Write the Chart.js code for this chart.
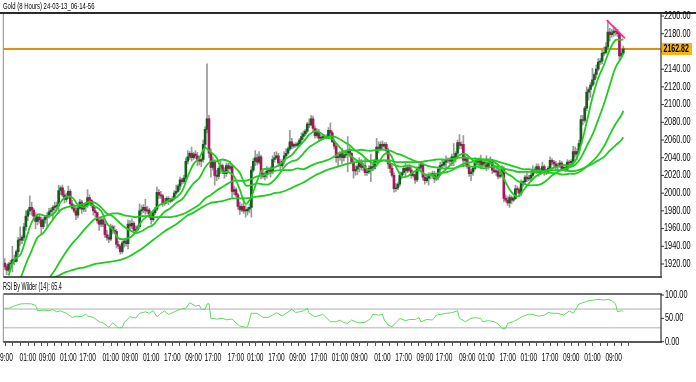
<!DOCTYPE html>
<html><head><meta charset="utf-8">
<script src="https://cdn.jsdelivr.net/npm/chart.js@4.4.1/dist/chart.umd.min.js"></script>
<style>
html,body{margin:0;padding:0;background:#fff;}
#wrap{position:relative;width:696px;height:382px;overflow:hidden;background:#fff;}
canvas{position:absolute;left:0;}
#c1{top:0;} #c2{top:280px;}
</style></head><body>
<div id="wrap"><canvas id="c1" width="696" height="280"></canvas><canvas id="c2" width="696" height="102"></canvas></div>
<script>
// ---- data (8-hour bars, oldest first) ----
const title = "Gold (8 Hours) 24-03-13_06-14-56";
const rsiTitle = "RSI By Wilder (14): 65.4";
const open = [
1921,1917,1913, 1920,1921,1925, 1923,1934,1947, 1947,1950,1962, 1974,1980,1984,
1981,1974,1968, 1973,1970,1962, 1970,1973,1975, 1979,1981,1984, 1985,1986,2003,
2006,1998,1993, 1996,2002,1988, 1983,1980,1975, 1983,1990,1982, 1985,1987,1995,
1992,1986,1980, 1978,1969,1965, 1970,1965,1953, 1950,1948,1962, 1958,1957,1942,
1940,1934,1944, 1946,1943,1965, 1963,1966,1958, 1959,1962,1980, 1981,1984,1980,
1981,1974,1970, 1978,1982,2001, 1998,1997,1988, 1990,1994,1991, 1992,1994,2000,
2002,2008,2015, 2013,2017,2036, 2041,2045,2040, 2044,2042,2038, 2036,2038,2055,
2072,2084,2045, 2029,2035,2020, 2019,2028,2031, 2025,2022,2031, 2028,2030,2002,
2004,1998,1985, 1981,1985,1980, 1980,1982,1984, 2026,2036,2040, 2035,2041,2022,
2019,2021,2025, 2027,2024,2038, 2040,2042,2034, 2031,2036,2042, 2045,2050,2058,
2053,2055,2054, 2056,2060,2064, 2067,2070,2078, 2077,2084,2073, 2065,2069,2062,
2062,2064,2063, 2064,2071,2068, 2058,2053,2040, 2041,2045,2040, 2043,2044,2048,
2045,2035,2025, 2027,2030,2036, 2029,2031,2023, 2024,2028,2030, 2028,2036,2052,
2049,2055,2053, 2055,2048,2033, 2028,2020,2005, 2006,2010,2020, 2023,2028,2025,
2029,2026,2020, 2021,2015,2027, 2029,2032,2018, 2014,2017,2021, 2020,2022,2016,
2018,2027,2031, 2032,2035,2038, 2037,2036,2041, 2039,2045,2057, 2054,2055,2037,
2039,2030,2022, 2024,2028,2036, 2035,2037,2031, 2035,2033,2029, 2034,2036,2026,
2024,2025,2019, 2020,2028,1994, 1992,1989,1995, 1992,1994,2005, 2004,2000,2011,
2013,2018,2016, 2017,2020,2027, 2024,2030,2023, 2026,2030,2023, 2024,2028,2037,
2035,2033,2030, 2031,2034,2028, 2029,2027,2035, 2034,2036,2047, 2044,2047,2056,
2083,2082,2096, 2114,2117,2122, 2128,2134,2140, 2148,2149,2158, 2159,2165,2182,
2179,2181,2183, 2182,2180,2155, 2158];
const high = [
1926,1920,1922, 1924,1940,1930, 1936,1950,1962, 1952,1966,1980, 1982,1997,1990,
1983,1978,1976, 1976,1973,1972, 1975,1978,1983, 1983,1986,1990, 1990,2009,2008,
2009,2003,2000, 2008,2004,1992, 1987,1984,1986, 1993,1992,1988, 1989,2004,1998,
1993,1990,1984, 1978,1972,1972, 1972,1968,1958, 1953,1965,1964, 1963,1959,1946,
1942,1946,1948, 1948,1970,1969, 1971,1968,1963, 1964,1988,1986, 1987,1993,1985,
1983,1978,1980, 1984,2007,2004, 2002,1999,1994, 1996,1996,1994, 1996,2003,2009,
2010,2018,2017, 2020,2040,2048, 2047,2052,2046, 2048,2046,2041, 2040,2060,2075,
2146,2088,2050, 2041,2038,2026, 2030,2036,2033, 2029,2034,2034, 2036,2032,2008,
2006,2000,1990, 1988,1995,1986, 1984,1988,2030, 2039,2048,2044, 2047,2043,2026,
2024,2030,2029, 2030,2042,2046, 2047,2045,2038, 2038,2047,2050, 2052,2071,2062,
2056,2057,2058, 2062,2068,2070, 2072,2080,2084, 2088,2087,2076, 2073,2072,2066,
2066,2066,2066, 2074,2079,2070, 2061,2056,2046, 2047,2051,2046, 2047,2064,2052,
2046,2038,2031, 2032,2040,2038, 2034,2039,2028, 2031,2044,2034, 2038,2062,2058,
2058,2059,2057, 2057,2051,2036, 2031,2023,2011, 2012,2024,2024, 2030,2036,2032,
2033,2030,2024, 2025,2030,2033, 2036,2034,2022, 2020,2023,2023, 2025,2025,2021,
2030,2035,2037, 2038,2042,2040, 2040,2044,2056, 2047,2060,2066, 2058,2065,2042,
2041,2033,2027, 2030,2040,2039, 2040,2043,2037, 2038,2042,2036, 2041,2038,2030,
2028,2027,2024, 2031,2030,1998, 1996,1998,1997, 1996,2009,2008, 2006,2015,2014,
2020,2023,2020, 2022,2031,2029, 2033,2033,2028, 2035,2032,2027, 2030,2041,2039,
2037,2036,2034, 2037,2036,2032, 2032,2038,2037, 2038,2053,2052, 2050,2060,2088,
2088,2098,2120, 2119,2125,2141, 2136,2145,2152, 2152,2162,2165, 2170,2195,2186,
2185,2189,2187, 2185,2182,2163, 2166];
const low = [
1914,1908,1911, 1916,1911,1919, 1922,1930,1941, 1943,1946,1958, 1969,1976,1975,
1970,1960,1964, 1966,1953,1960, 1966,1962,1972, 1976,1970,1980, 1983,1977,1998,
1996,1989,1990, 1994,1985,1982, 1978,1970,1972, 1982,1977,1979, 1979,1984,1988,
1984,1975,1973, 1966,1958,1962, 1962,1950,1947, 1944,1946,1954, 1955,1938,1937,
1931,1932,1939, 1940,1937,1958, 1960,1955,1955, 1957,1960,1976, 1978,1976,1977,
1972,1965,1968, 1976,1980,1994, 1994,1985,1986, 1988,1987,1989, 1990,1992,1998,
2001,2004,2010, 2011,2015,2033, 2038,2036,2038, 2039,2031,2032, 2030,2035,2050,
2068,2040,2018, 2026,2009,2014, 2016,2022,2022, 2017,2019,2025, 2026,1995,1998,
1996,1982,1976, 1979,1977,1973, 1975,1978,1973, 2024,2031,2032, 2033,2016,2017,
2015,2017,2022, 2018,2022,2035, 2038,2030,2027, 2029,2033,2040, 2044,2048,2050,
2051,2052,2052, 2054,2056,2061, 2065,2068,2074, 2076,2070,2062, 2063,2058,2059,
2061,2062,2061, 2062,2065,2057, 2050,2035,2030, 2037,2033,2036, 2040,2024,2041,
2033,2017,2020, 2021,2024,2026, 2025,2020,2020, 2022,2013,2025, 2027,2034,2045,
2048,2050,2051, 2045,2028,2023, 2018,2001,2002, 2004,2008,2016, 2021,2019,2023,
2024,2017,2018, 2011,2013,2025, 2027,2015,2010, 2012,2009,2016, 2017,2012,2014,
2015,2023,2028, 2030,2027,2034, 2033,2031,2031, 2035,2042,2050, 2050,2030,2031,
2028,2019,2014, 2020,2026,2032, 2032,2028,2029, 2030,2025,2027, 2032,2022,2023,
2020,2016,2017, 2018,1990,1990, 1986,1984,1988, 1990,1993,2000, 1996,1997,2008,
2011,2013,2014, 2013,2018,2022, 2022,2019,2021, 2024,2020,2021, 2022,2026,2032,
2030,2025,2027, 2029,2025,2026, 2024,2025,2031, 2030,2033,2041, 2038,2044,2054,
2077,2080,2093, 2105,2108,2120, 2123,2130,2138, 2145,2146,2155, 2157,2164,2172,
2176,2177,2178, 2177,2150,2152, 2156];
const close = [
1917,1913,1920, 1921,1925,1923, 1934,1947,1947, 1950,1962,1974, 1980,1984,1981,
1974,1968,1973, 1970,1962,1970, 1973,1975,1979, 1981,1984,1985, 1986,2003,2006,
1998,1993,1996, 2002,1988,1983, 1980,1975,1983, 1990,1982,1985, 1987,1995,1992,
1986,1980,1978, 1969,1965,1970, 1965,1953,1950, 1948,1962,1958, 1957,1942,1940,
1934,1944,1946, 1943,1965,1963, 1966,1958,1959, 1962,1980,1981, 1984,1980,1981,
1974,1970,1978, 1982,2001,1998, 1997,1988,1990, 1994,1991,1992, 1994,2000,2002,
2008,2015,2013, 2017,2036,2041, 2045,2040,2044, 2042,2038,2036, 2038,2055,2072,
2084,2045,2029, 2035,2020,2019, 2028,2031,2025, 2022,2031,2028, 2030,2002,2004,
1998,1985,1981, 1985,1980,1980, 1982,1984,2026, 2036,2040,2035, 2041,2022,2019,
2021,2025,2027, 2024,2038,2040, 2042,2034,2031, 2036,2042,2045, 2050,2058,2053,
2055,2054,2056, 2060,2064,2067, 2070,2078,2077, 2084,2073,2065, 2069,2062,2062,
2064,2063,2064, 2071,2068,2058, 2053,2040,2041, 2045,2040,2043, 2044,2048,2045,
2035,2025,2027, 2030,2036,2029, 2031,2023,2024, 2028,2030,2028, 2036,2052,2049,
2055,2053,2055, 2048,2033,2028, 2020,2005,2006, 2010,2020,2023, 2028,2025,2029,
2026,2020,2021, 2015,2027,2029, 2032,2018,2014, 2017,2021,2020, 2022,2016,2018,
2027,2031,2032, 2035,2038,2037, 2036,2041,2039, 2045,2057,2054, 2055,2037,2039,
2030,2022,2024, 2028,2036,2035, 2037,2031,2035, 2033,2029,2034, 2036,2026,2024,
2025,2019,2020, 2028,1994,1992, 1989,1995,1992, 1994,2005,2004, 2000,2011,2013,
2018,2016,2017, 2020,2027,2024, 2030,2023,2026, 2030,2023,2024, 2028,2037,2035,
2033,2030,2031, 2034,2028,2029, 2027,2035,2034, 2036,2047,2044, 2047,2056,2083,
2082,2096,2114, 2117,2122,2128, 2134,2140,2148, 2149,2158,2159, 2165,2182,2179,
2181,2183,2182, 2180,2155,2158, 2163];
// moving averages, one reading per trading day (3 bars)
const ma9 = [
1907,1925,1930,1948,1967,1976,1975,1974,1978,1990,
1996,1995,1987,1984,1987,1985,1980,1966,1959,1949,
1948,1950,1956,1968,1974,1980,1986,1989,1993,1995,
2002,2019,2033,2040,2051,2046,2040,2024,2024,2019,
2004,1988,1996,2014,2027,2027,2029,2033,2039,2043,
2051,2058,2066,2070,2068,2063,2061,2054,2047,2043,
2038,2034,2027,2027,2034,2044,2044,2030,2019,2019,
2024,2026,2021,2021,2017,2023,2029,2036,2043,2044,
2039,2033,2031,2035,2031,2026,2012,2001,1996,2003,
2011,2018,2022,2025,2028,2030,2032,2031,2036,2054,
2080,2108,2130,2145,2162,2173,2173,2174];
const ma21 = [
1878,1891,1903,1920,1935,1950,1955,1964,1973,1981,
1984,1985,1986,1988,1990,1989,1984,1977,1974,1968,
1962,1958,1955,1957,1961,1964,1972,1979,1983,1989,
1993,2002,2011,2017,2029,2036,2036,2038,2036,2030,
2023,2009,2009,2011,2010,2010,2015,2023,2032,2036,
2038,2045,2052,2056,2060,2063,2064,2062,2058,2054,
2048,2044,2038,2034,2035,2037,2034,2031,2030,2031,
2030,2027,2021,2020,2022,2023,2024,2027,2031,2034,
2035,2037,2038,2037,2035,2030,2023,2019,2014,2011,
2009,2009,2010,2014,2020,2024,2027,2029,2032,2040,
2053,2066,2083,2101,2122,2142,2153,2158];
const ma50 = [
1869,1869,1871,1875,1881,1888,1895,1904,1913,1924,
1934,1943,1950,1958,1965,1971,1973,1975,1977,1977,
1975,1974,1973,1974,1974,1973,1973,1973,1973,1974,
1976,1979,1983,1987,1994,1998,2003,2007,2011,2014,
2014,2014,2016,2019,2020,2022,2025,2026,2026,2026,
2028,2027,2030,2033,2035,2037,2040,2044,2047,2049,
2048,2049,2048,2048,2049,2049,2048,2045,2043,2040,
2037,2035,2032,2030,2029,2028,2028,2028,2030,2031,
2030,2030,2028,2029,2030,2030,2027,2026,2024,2024,
2024,2024,2024,2023,2023,2022,2021,2022,2022,2025,
2030,2036,2043,2053,2066,2078,2088,2093];
const ma100 = [
1896,1895,1895,1896,1898,1900,1901,1903,1905,1908,
1911,1913,1915,1916,1918,1920,1921,1922,1923,1924,
1926,1929,1933,1937,1942,1947,1952,1957,1961,1965,
1970,1975,1978,1982,1986,1989,1990,1991,1993,1994,
1994,1994,1995,1996,1997,1998,2000,2001,2003,2006,
2009,2012,2016,2020,2023,2026,2028,2030,2032,2034,
2035,2036,2036,2037,2037,2037,2037,2035,2035,2035,
2035,2035,2036,2037,2038,2038,2038,2039,2040,2040,
2039,2039,2038,2038,2037,2035,2033,2031,2029,2027,
2027,2026,2025,2025,2026,2026,2026,2025,2025,2027,
2030,2033,2037,2041,2048,2054,2060,2063];
const rsiBar = [0,2,5,8,11,14,16,17,20,23,25,27,29,32,35,37,40,42,43,46,49,51,54,56,59,61,62,65,68,70,73,75,77,79,81,83,85,88,91,94,96,99,101,102,104,105,106,107,110,113,115,118,120,122,125,126,128,131,134,137,139,141,144,146,149,151,153,155,157,158,161,164,165,169,172,174,176,178,180,182,184,187,190,191,194,196,197,199,201,203,205,208,210,213,215,216,219,222,224,227,229,232,235,236,239,242,244,247,248,251,254,256,258,260,261,264,267,269,272,274,277,280,282,285,287,290,293,295,298,300,303,306,308,311,313,315,317,318,320,321];
const rsiVal = [71.6,71.6,76.5,80.8,81.5,80.8,78,66.4,67.6,66.4,69,64,66,60.8,52.2,54.7,53.6,59,55,52,42.9,40.5,30.8,40.5,30,30,40.8,53.6,50.5,60.8,64,61,66.4,53.6,60.8,66,58.5,64,69.3,71.6,83.6,76.5,78,69.3,69.3,80.8,81.5,50,48.6,50,47,48.6,40.5,33.6,31,32,61,60.8,52.2,52.2,57,62,55,60.8,69.3,62.7,64,66,71.6,60.8,53.6,57,59,42.9,42.9,46.5,40.8,39.4,46.5,43,40.5,41.6,50,58.6,57,58.6,46.5,35.7,32,40.8,50,45,47.6,47.6,52,42.9,47.6,46.5,57,59,60.8,62,66.4,50,43,50,51.5,50,43,45,43,38.3,28.6,28.6,39.4,43,50,54.7,59,58.6,54.7,56.7,62.4,60.8,60.8,57,66,60.8,80.8,83.6,87.9,89.3,90.7,89.3,90.7,88,80.8,64.3,66.4,65.4];
const priceTicks = [1920,1940,1960,1980,2000,2020,2040,2060,2080,2100,2120,2140,2160,2180,2200];
const rsiTicks = [0,50,100];
const rsiLevels = [30,70];
const xLabelBar = [0,12,22,33,43,55,65,76,87,98,108,120,130,141,152,163,174,184,196,207,218,228,240,250,261,272,283,294,305,316];
const xLabels = ["09:00","01:00","09:00","01:00","17:00","01:00","09:00","01:00","17:00","09:00","17:00","17:00","01:00","17:00","09:00","17:00","01:00","09:00","01:00","17:00","09:00","17:00","09:00","01:00","17:00","01:00","17:00","09:00","01:00","09:00"];
const lastPrice = 2162.82;
const trendBar = [312.4, 321.9];
const trendPrice = [2195.5, 2174.8];

// ---- styling ----
const X_MIN = -0.7265, X_MAX = 340.56;
const BULL = '#145e1c', BEAR = '#a8165c', WICK = '#9a9a9a', MA = '#1fcc1f';
const FONT = '"Liberation Sans", Arial, sans-serif';
function txt(ctx, s, x, y, o) {
  o = o || {};
  ctx.save(); ctx.translate(x, y); ctx.scale(o.sx || 0.72, 1);
  ctx.font = (o.weight || 'normal') + ' ' + (o.size || 10) + 'px ' + FONT;
  ctx.fillStyle = o.color || '#000'; ctx.textAlign = o.align || 'left'; ctx.textBaseline = 'middle';
  ctx.fillText(s, 0, 0); ctx.restore();
}
function hline(ctx, x1, x2, y, w, c) { ctx.fillStyle = c; ctx.fillRect(x1, y - w / 2, x2 - x1, w); }
function vline(ctx, x, y1, y2, w, c) { ctx.fillStyle = c; ctx.fillRect(x - w / 2, y1, w, y2 - y1); }

const wickData = close.map((c, i) => ({x: i, y: [low[i], high[i]]}));
const bodyData = close.map((c, i) => ({x: i, y: [open[i], c]}));
const bodyColors = close.map((c, i) => c >= open[i] ? BULL : BEAR);
const lastBar = close.length - 1;
const maPts = arr => arr.map((v, k) => ({x: Math.min(3 * k + 2, lastBar), y: v}));
const maSet = (arr, ord) => ({type: 'line', data: maPts(arr), borderColor: MA, borderWidth: 1.8, pointRadius: 0, tension: 0.35, order: ord});

const mainDecor = {
  id: 'mainDecor',
  beforeDatasetsDraw(chart) {
    const {ctx, chartArea: a, scales: {y}} = chart;
    hline(ctx, a.left, a.right, y.getPixelForValue(lastPrice), 2, '#d8920c');
  },
  afterDraw(chart) {
    const {ctx, chartArea: a, scales: {y}} = chart;
    txt(ctx, title, 3, 6.5, {size: 9, sx: 0.66});
    hline(ctx, 0, 696, 13, 2, '#2a2a2a');
    vline(ctx, a.left, a.top, a.bottom, 1, '#8c8c8c');
    hline(ctx, a.left, a.right + 1, a.bottom, 1.5, '#222');
    vline(ctx, a.right, a.top - 1, a.bottom, 1.2, '#333');
    priceTicks.forEach(v => {
      const py = y.getPixelForValue(v);
      hline(ctx, a.right, a.right + 3, py, 1, '#333');
      txt(ctx, v.toFixed(2), a.right + 3, py, {size: 10.5, sx: 0.7});
    });
    const py = y.getPixelForValue(lastPrice);
    ctx.fillStyle = '#f7b518'; ctx.fillRect(a.right + 1, py - 6, 30, 12);
    txt(ctx, lastPrice.toFixed(2), a.right + 2.5, py, {size: 10, weight: 'bold', sx: 0.7});
  }
};

new Chart(document.getElementById('c1'), {
  type: 'bar',
  data: {datasets: [
    {type: 'line', data: [{x: trendBar[0], y: trendPrice[0]}, {x: trendBar[1], y: trendPrice[1]}], borderColor: '#ff2a8c', borderWidth: 1.8, pointRadius: 0, order: 0},
    maSet(ma9, 1), maSet(ma21, 2), maSet(ma50, 3), maSet(ma100, 4),
    {type: 'bar', data: bodyData, backgroundColor: bodyColors, barThickness: 2, minBarLength: 1, grouped: false, order: 5},
    {type: 'bar', data: wickData, backgroundColor: WICK, barThickness: 1, grouped: false, order: 6}
  ]},
  options: {
    responsive: false, animation: false, devicePixelRatio: 1,
    layout: {padding: {left: 3.3, right: 35, top: 14, bottom: 3}},
    plugins: {legend: {display: false}, tooltip: {enabled: false}},
    scales: {
      x: {type: 'linear', min: X_MIN, max: X_MAX, display: false, offset: false},
      y: {type: 'linear', min: 1905.3, max: 2202.3, display: false}
    }
  },
  plugins: [mainDecor]
});

const rsiDecor = {
  id: 'rsiDecor',
  beforeDatasetsDraw(chart) {
    const {ctx, chartArea: a, scales: {y}} = chart;
    rsiLevels.forEach(v => hline(ctx, a.left, a.right, y.getPixelForValue(v), 1.5, '#cacaca'));
  },
  afterDraw(chart) {
    const {ctx, chartArea: a, scales: {x, y}} = chart;
    txt(ctx, rsiTitle, 3, 6.8, {size: 10.5, sx: 0.52});
    hline(ctx, a.left, a.right + 1, a.top, 2, '#6e6e6e');
    vline(ctx, a.left, a.top, a.bottom, 1, '#8c8c8c');
    hline(ctx, a.left, a.right + 1, a.bottom, 1.5, '#222');
    vline(ctx, a.right, a.top, a.bottom, 1.2, '#333');
    rsiTicks.forEach(v => {
      const py = y.getPixelForValue(v);
      hline(ctx, a.right, a.right + 3, py, 1, '#333');
      txt(ctx, v.toFixed(2), a.right + 4, py, {size: 10.5, sx: 0.7});
    });
    for (let j = 0; j < xLabelBar.length; j++) {
      const px = x.getPixelForValue(xLabelBar[j]);
      txt(ctx, xLabels[j], px, 78, {size: 11, sx: 0.6, align: 'center'});
      const nx = j + 1 < xLabelBar.length ? x.getPixelForValue(xLabelBar[j + 1]) : px + 21;
      for (let t = 0; t < 3; t++) {
        const tx = Math.round(px + (nx - px) * t / 3) + 0.5;
        if (tx < a.right) vline(ctx, tx, a.bottom + 1, a.bottom + 4, 1, '#555');
      }
    }
  }
};

new Chart(document.getElementById('c2'), {
  type: 'line',
  data: {datasets: [
    {data: rsiBar.map((b, j) => ({x: b, y: rsiVal[j]})), borderColor: '#5edc5e', borderWidth: 1, pointRadius: 0, tension: 0}
  ]},
  options: {
    responsive: false, animation: false, devicePixelRatio: 1,
    layout: {padding: {left: 3.3, right: 35, top: 14, bottom: 40}},
    plugins: {legend: {display: false}, tooltip: {enabled: false}},
    scales: {
      x: {type: 'linear', min: X_MIN, max: X_MAX, display: false},
      y: {type: 'linear', min: -0.6, max: 102.2, display: false}
    }
  },
  plugins: [rsiDecor]
});
</script>
</body></html>
